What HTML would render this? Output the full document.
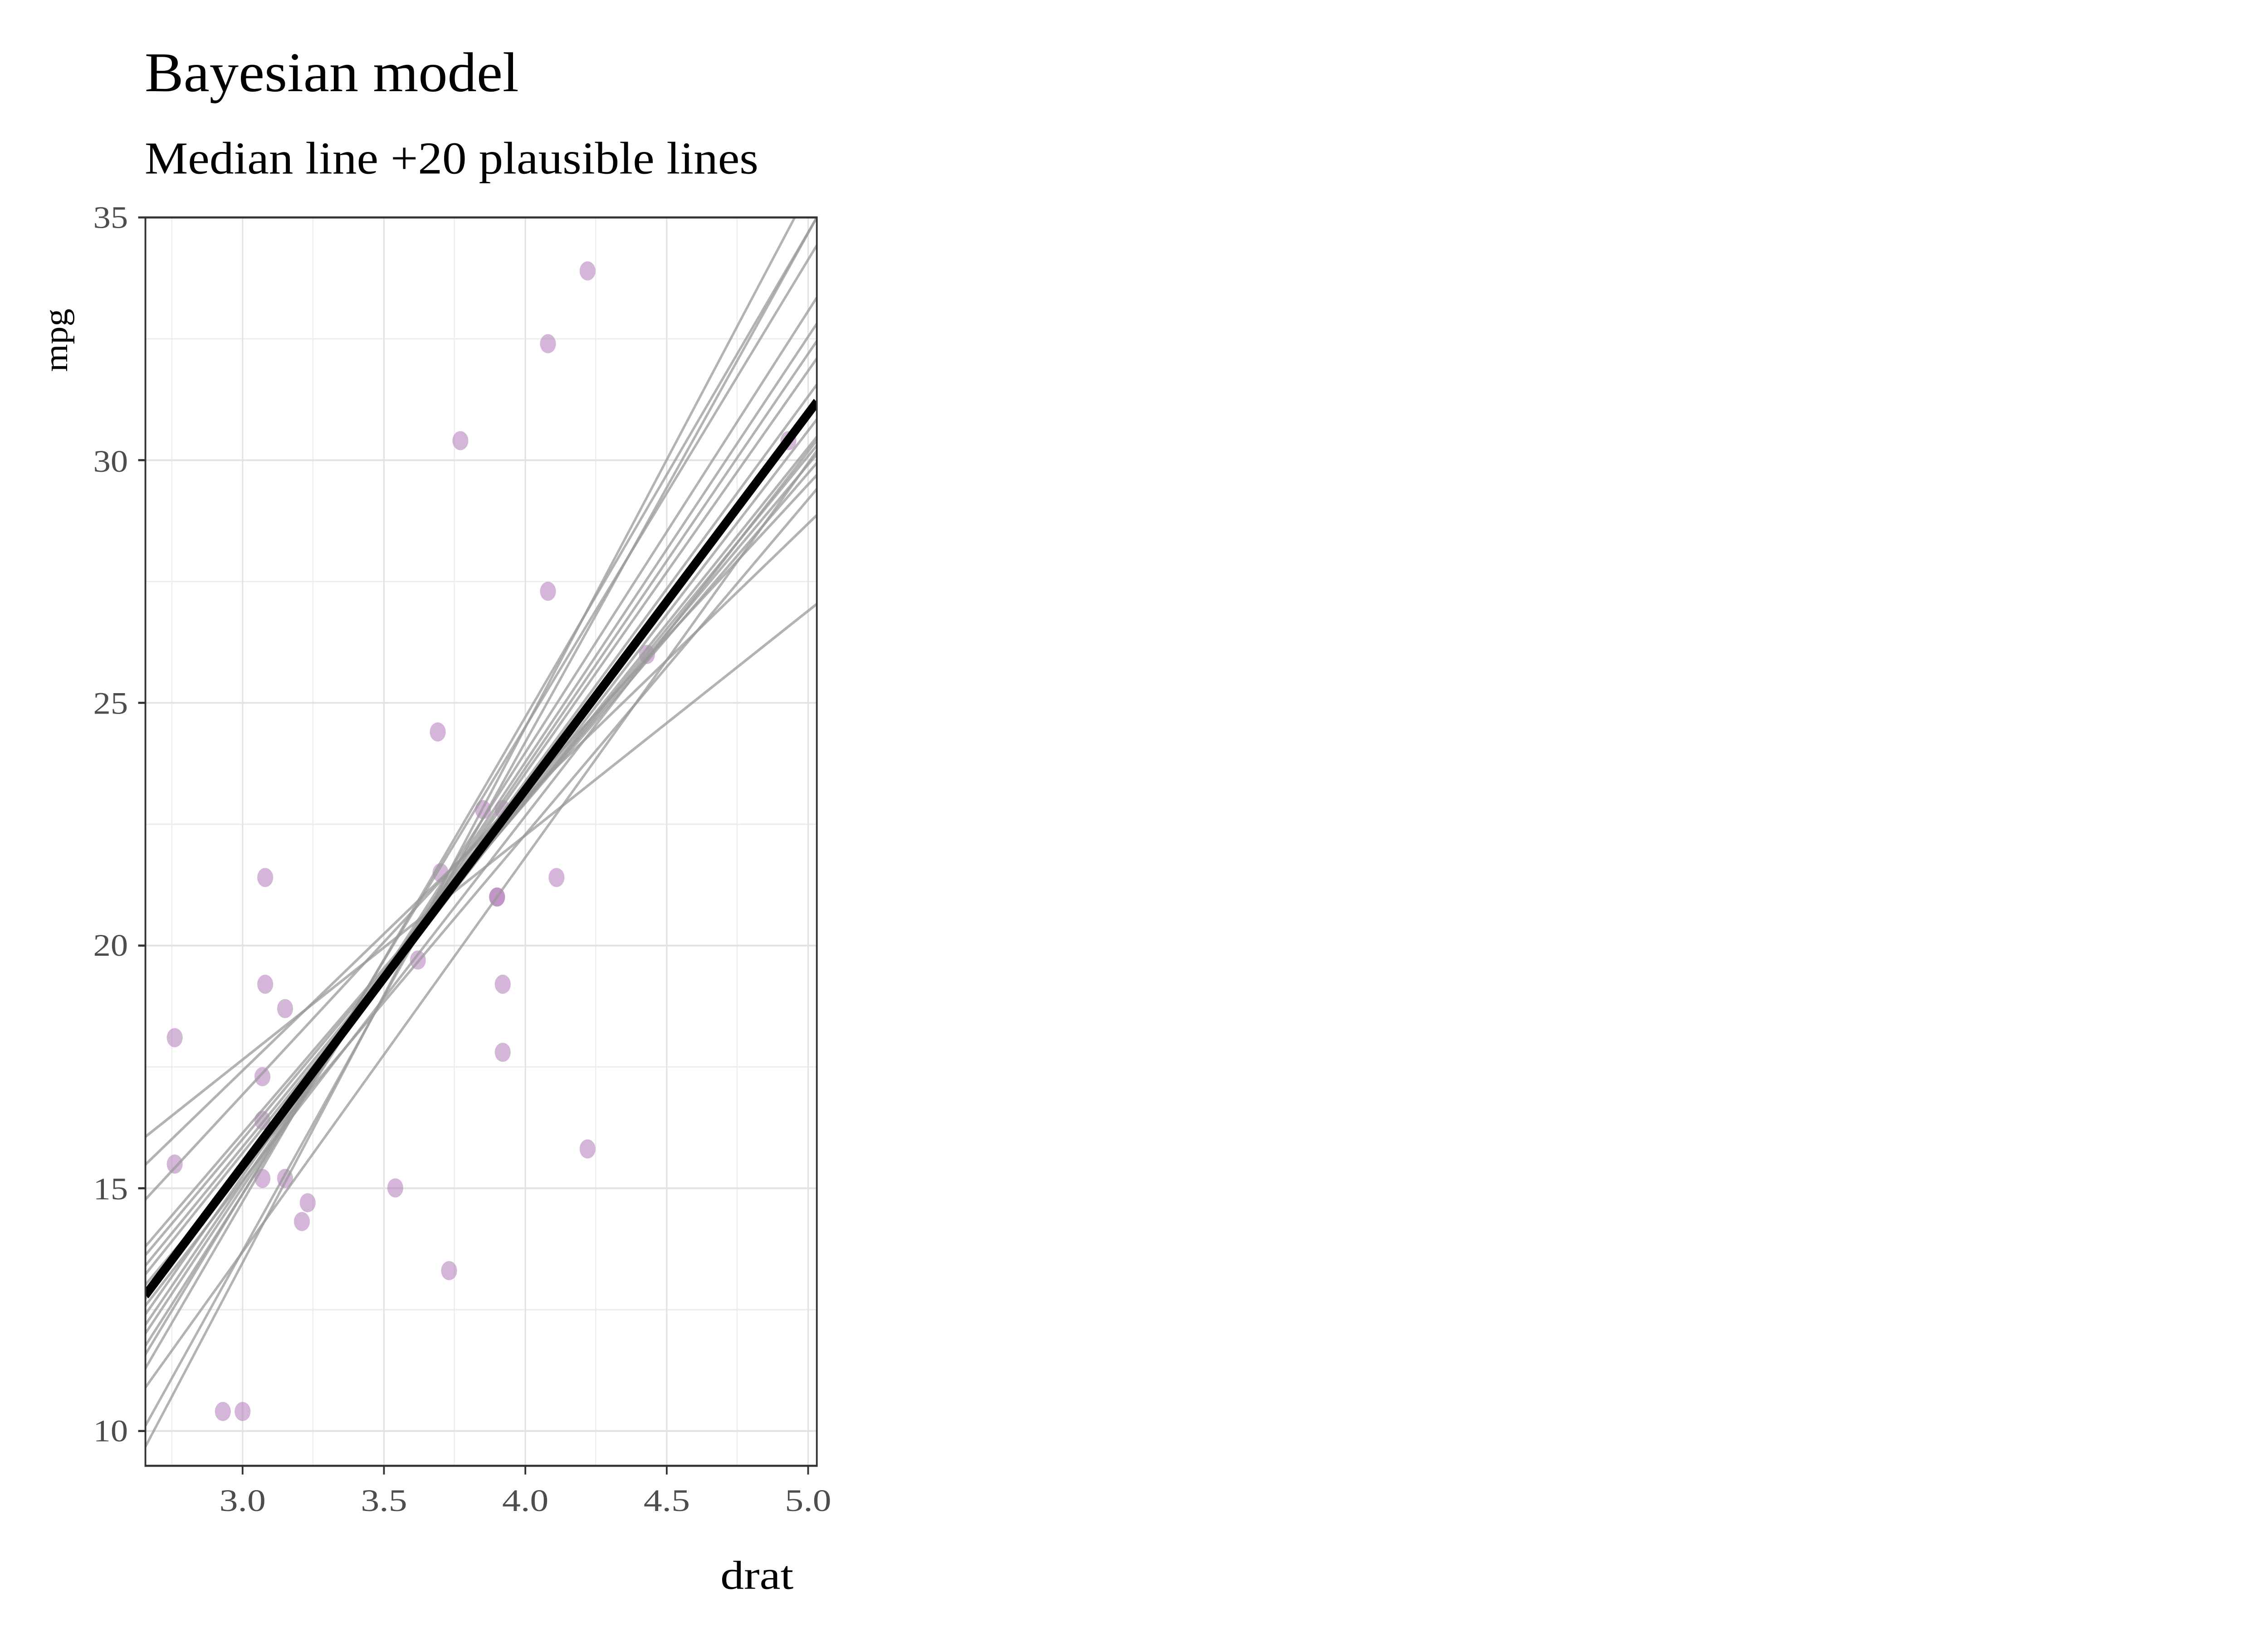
<!DOCTYPE html>
<html><head><meta charset="utf-8"><style>html,body{margin:0;padding:0;background:#fff;width:100%;height:100%;overflow:hidden}svg{display:block;position:absolute;left:0;top:0;width:100vw;height:100vh}</style></head>
<body>
<svg viewBox="0 0 1552 931.2" preserveAspectRatio="none" xmlns="http://www.w3.org/2000/svg" font-family="'Liberation Serif', serif">
<rect width="1552" height="931.2" fill="#fff"/>
<text x="99" y="52" font-size="32" fill="#000" textLength="256" lengthAdjust="spacingAndGlyphs">Bayesian model</text>
<text x="99" y="99" font-size="26" fill="#000" textLength="420" lengthAdjust="spacingAndGlyphs">Median line +20 plausible lines</text>
<defs><clipPath id="c"><rect x="100" y="124" width="463" height="717"/></clipPath></defs>
<g transform="matrix(0.99231 0 0 0.99283 0.284 0.889)">
<g stroke="#ebebeb" stroke-width="0.7">
<line x1="118.2" y1="124" x2="118.2" y2="841"/><line x1="215.5" y1="124" x2="215.5" y2="841"/><line x1="313" y1="124" x2="313" y2="841"/><line x1="410.5" y1="124" x2="410.5" y2="841"/><line x1="508" y1="124" x2="508" y2="841"/>
<line x1="100" y1="751.3" x2="563" y2="751.3"/><line x1="100" y1="611.9" x2="563" y2="611.9"/><line x1="100" y1="472.5" x2="563" y2="472.5"/><line x1="100" y1="333.1" x2="563" y2="333.1"/><line x1="100" y1="193.7" x2="563" y2="193.7"/>
</g>
<g stroke="#e3e3e3" stroke-width="1">
<line x1="167" y1="124" x2="167" y2="841"/><line x1="264.5" y1="124" x2="264.5" y2="841"/><line x1="362" y1="124" x2="362" y2="841"/><line x1="459.5" y1="124" x2="459.5" y2="841"/><line x1="557" y1="124" x2="557" y2="841"/>
<line x1="100" y1="821" x2="563" y2="821"/><line x1="100" y1="681.6" x2="563" y2="681.6"/><line x1="100" y1="542.2" x2="563" y2="542.2"/><line x1="100" y1="402.8" x2="563" y2="402.8"/><line x1="100" y1="263.4" x2="563" y2="263.4"/><line x1="100" y1="124" x2="563" y2="124"/>
</g>
<g fill="#b07ab8" fill-opacity="0.55">
<circle cx="342.5" cy="514.3" r="5.5"/><circle cx="342.5" cy="514.3" r="5.5"/><circle cx="332.8" cy="464.1" r="5.5"/><circle cx="182.6" cy="503.1" r="5.5"/><circle cx="196.3" cy="578.4" r="5.5"/><circle cx="120.2" cy="595.1" r="5.5"/><circle cx="207.9" cy="700.7" r="5.5"/><circle cx="301.6" cy="419.5" r="5.5"/><circle cx="346.4" cy="464.1" r="5.5"/><circle cx="346.4" cy="564.4" r="5.5"/><circle cx="346.4" cy="603.5" r="5.5"/><circle cx="180.7" cy="642.6" r="5.5"/><circle cx="180.7" cy="617.5" r="5.5"/><circle cx="180.7" cy="675.9" r="5.5"/><circle cx="153.4" cy="809.8" r="5.5"/><circle cx="167" cy="809.8" r="5.5"/><circle cx="211.9" cy="689.9" r="5.5"/><circle cx="377.6" cy="196.5" r="5.5"/><circle cx="543.4" cy="252.2" r="5.5"/><circle cx="404.9" cy="154.7" r="5.5"/><circle cx="303.5" cy="500.4" r="5.5"/><circle cx="120.2" cy="667.7" r="5.5"/><circle cx="196.3" cy="675.9" r="5.5"/><circle cx="309.4" cy="728.9" r="5.5"/><circle cx="182.6" cy="564.4" r="5.5"/><circle cx="377.6" cy="338.7" r="5.5"/><circle cx="445.9" cy="375" r="5.5"/><circle cx="317.2" cy="252.2" r="5.5"/><circle cx="404.9" cy="659" r="5.5"/><circle cx="287.9" cy="550.5" r="5.5"/><circle cx="272.3" cy="681.4" r="5.5"/><circle cx="383.5" cy="503.1" r="5.5"/>
</g>
<g clip-path="url(#c)" stroke="#9a9a9a" stroke-opacity="0.75" stroke-width="1.6" fill="none">
<line x1="100" y1="652" x2="563" y2="346"/><line x1="100" y1="668" x2="563" y2="295"/><line x1="100" y1="688" x2="563" y2="272"/><line x1="100" y1="715" x2="563" y2="265"/><line x1="100" y1="720" x2="563" y2="260"/><line x1="100" y1="726" x2="563" y2="255"/><line x1="100" y1="731" x2="563" y2="250"/><line x1="100" y1="737" x2="563" y2="280"/><line x1="100" y1="741" x2="563" y2="240"/><line x1="100" y1="745" x2="563" y2="220"/><line x1="100" y1="749" x2="563" y2="252"/><line x1="100" y1="754" x2="563" y2="205"/><line x1="100" y1="760" x2="563" y2="195"/><line x1="100" y1="765" x2="563" y2="185"/><line x1="100" y1="772" x2="563" y2="170"/><line x1="100" y1="777" x2="563" y2="140"/><line x1="100" y1="785" x2="563" y2="124"/><line x1="100" y1="796" x2="563" y2="258"/><line x1="100" y1="818" x2="563" y2="124"/><line x1="100" y1="830" x2="563" y2="100"/>
</g>
<line clip-path="url(#c)" x1="100" y1="743" x2="563" y2="230" stroke="#000" stroke-width="5.5"/>
<rect x="100" y="124" width="463" height="717" fill="none" stroke="#333" stroke-width="1.2"/>
<g stroke="#333" stroke-width="1.2">
<line x1="95" y1="821" x2="100" y2="821"/><line x1="95" y1="681.6" x2="100" y2="681.6"/><line x1="95" y1="542.2" x2="100" y2="542.2"/><line x1="95" y1="402.8" x2="100" y2="402.8"/><line x1="95" y1="263.4" x2="100" y2="263.4"/><line x1="95" y1="124" x2="100" y2="124"/>
<line x1="167" y1="841" x2="167" y2="846"/><line x1="264.5" y1="841" x2="264.5" y2="846"/><line x1="362" y1="841" x2="362" y2="846"/><line x1="459.5" y1="841" x2="459.5" y2="846"/><line x1="557" y1="841" x2="557" y2="846"/>
</g>
<g font-size="18" fill="#4d4d4d" text-anchor="end">
<text x="88" y="827" textLength="24" lengthAdjust="spacingAndGlyphs">10</text><text x="88" y="688" textLength="24" lengthAdjust="spacingAndGlyphs">15</text><text x="88" y="548" textLength="24" lengthAdjust="spacingAndGlyphs">20</text><text x="88" y="409" textLength="24" lengthAdjust="spacingAndGlyphs">25</text><text x="88" y="270" textLength="24" lengthAdjust="spacingAndGlyphs">30</text><text x="88" y="130" textLength="24" lengthAdjust="spacingAndGlyphs">35</text>
</g>
<g font-size="18" fill="#4d4d4d" text-anchor="middle">
<text x="167" y="867" textLength="32" lengthAdjust="spacingAndGlyphs">3.0</text><text x="264.5" y="867" textLength="32" lengthAdjust="spacingAndGlyphs">3.5</text><text x="362" y="867" textLength="32" lengthAdjust="spacingAndGlyphs">4.0</text><text x="459.5" y="867" textLength="32" lengthAdjust="spacingAndGlyphs">4.5</text><text x="557" y="867" textLength="32" lengthAdjust="spacingAndGlyphs">5.0</text>
</g>
</g>
<text x="493" y="906" font-size="23" fill="#000" textLength="50" lengthAdjust="spacingAndGlyphs">drat</text>
<text transform="translate(46,212) rotate(-90)" font-size="23" fill="#000" textLength="36" lengthAdjust="spacingAndGlyphs">mpg</text>
</svg>
</body></html>
